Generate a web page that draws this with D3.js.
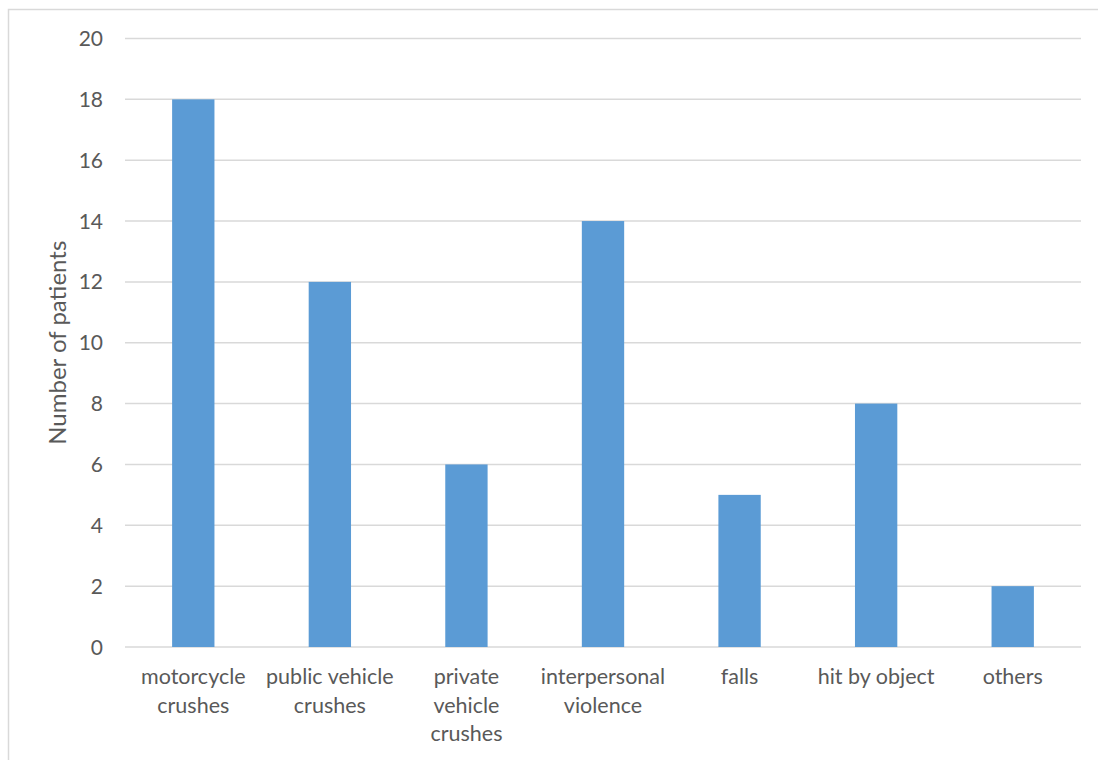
<!DOCTYPE html>
<html>
<head>
<meta charset="utf-8">
<script src="https://cdn.jsdelivr.net/npm/d3@7"></script>
<style>
  html, body { margin: 0; padding: 0; background: #fff; }
  svg { display: block; }
  text { font-family: Lato, "Open Sans", sans-serif; fill: #595959; }
</style>
</head>
<body>
<svg id="chart" width="1098" height="760"></svg>
<script>
// Injury mechanism counts
const categories = [
  ["motorcycle", "crushes"],
  ["public vehicle", "crushes"],
  ["private", "vehicle", "crushes"],
  ["interpersonal", "violence"],
  ["falls"],
  ["hit by object"],
  ["others"]
];
const patients = [18, 12, 6, 14, 5, 8, 2];
const yTicks = [0, 2, 4, 6, 8, 10, 12, 14, 16, 18, 20];
const yTitle = "Number of patients";

const svg = d3.select("#chart");
const plot = { left: 125, right: 1081, top: 38.5, bottom: 647 };

// Chart frame
svg.append("rect")
  .attr("x", 8.5).attr("y", 9.5)
  .attr("width", 1098).attr("height", 760)
  .attr("fill", "none").attr("stroke", "#d9d9d9").attr("stroke-width", 1.5);

const x = d3.scaleBand()
  .domain(d3.range(categories.length))
  .range([plot.left, plot.right])
  .paddingInner(0.69).paddingOuter(0.345);

const y = d3.scaleLinear().domain([0, 20]).range([plot.bottom, plot.top]);

// Horizontal gridlines
svg.append("g").selectAll("line")
  .data(yTicks)
  .join("line")
  .attr("x1", plot.left).attr("x2", plot.right)
  .attr("y1", d => y(d)).attr("y2", d => y(d))
  .attr("stroke", "#d9d9d9").attr("stroke-width", 1.5);

// Y tick labels
svg.append("g").selectAll("text")
  .data(yTicks)
  .join("text")
  .attr("x", 103).attr("y", d => y(d))
  .attr("dy", "0.36em")
  .attr("text-anchor", "end")
  .attr("font-size", 21)
  .text(d => d);

// Bars
svg.append("g").selectAll("rect")
  .data(patients)
  .join("rect")
  .attr("x", (d, i) => x(i))
  .attr("width", x.bandwidth())
  .attr("y", d => y(d))
  .attr("height", d => y(0) - y(d))
  .attr("fill", "#5b9bd5");

// Category labels (multi-line)
const catG = svg.append("g").selectAll("text")
  .data(categories)
  .join("text")
  .attr("text-anchor", "middle")
  .attr("font-size", 21.5)
  .attr("x", (d, i) => x(i) + x.bandwidth() / 2)
  .attr("y", 684);
catG.selectAll("tspan")
  .data(d => d)
  .join("tspan")
  .attr("x", function () { return this.parentNode.getAttribute("x"); })
  .attr("dy", (d, i) => i === 0 ? 0 : 28.5)
  .text(d => d);

// Y axis title
svg.append("text")
  .attr("transform", `translate(66, ${(plot.top + plot.bottom) / 2}) rotate(-90)`)
  .attr("text-anchor", "middle")
  .attr("font-size", 24)
  .text(yTitle);
</script>
</body>
</html>
